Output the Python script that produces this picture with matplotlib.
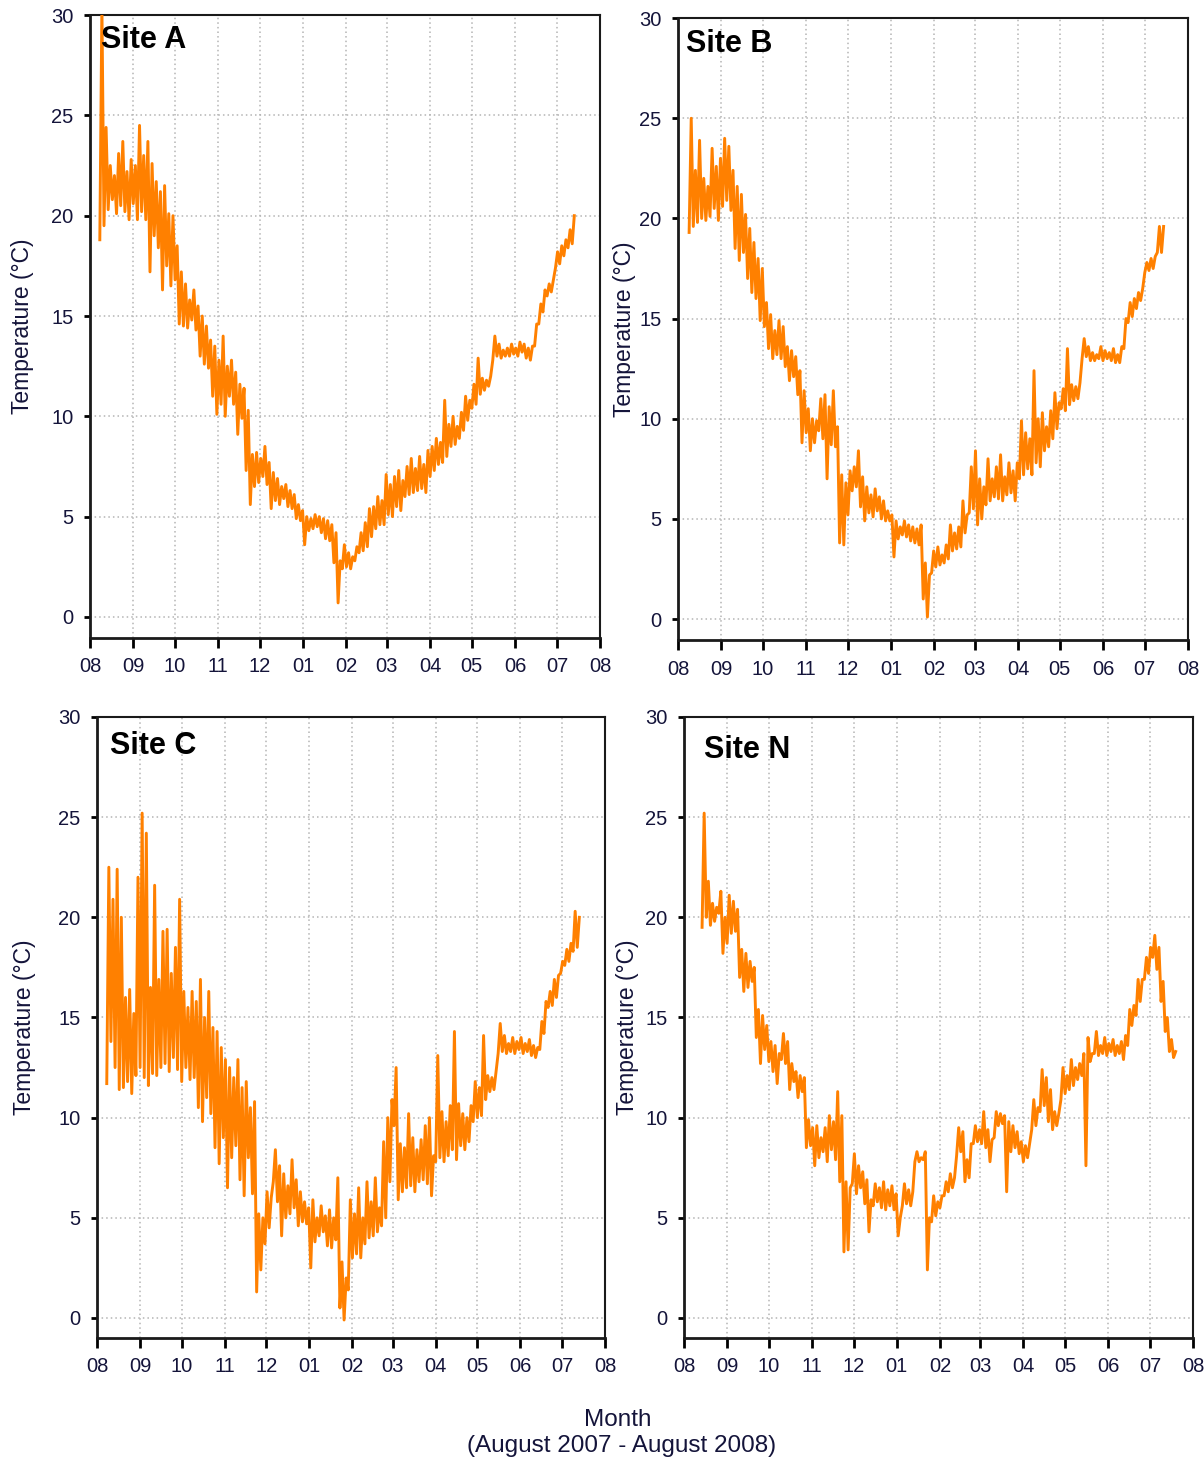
import numpy as np
import pandas as pd
import matplotlib
matplotlib.use("Agg")
import matplotlib.pyplot as plt
import matplotlib.dates as mdates

# ---------------------------------------------------------------
# Water temperature records, Aug 2007 - Aug 2008.
# Each site: low / high readings every 3 days from its first date.
# ---------------------------------------------------------------
site_names = ["Site A", "Site B", "Site C", "Site N"]
site_starts = ["2007-08-08", "2007-08-09", "2007-08-08", "2007-08-14"]
step_days = 3

site_a_lo = [18.8, 19.5, 20.3, 20.8, 20.1, 20.5, 20.2, 19.8, 20.6, 19.8,
             20.2, 19.8, 17.2, 19.0, 18.4, 16.3, 17.5, 16.5, 16.8, 14.6,
             14.5, 14.4, 14.8, 14.3, 13.0, 12.6, 12.4, 11.0, 10.1, 10.6,
             10.0, 11.0, 10.6, 9.1, 9.9, 7.3, 5.6, 6.5, 6.7, 7.0,
             6.6, 5.4, 5.8, 5.6, 5.9, 5.5, 5.4, 4.9, 4.8, 3.6,
             4.3, 4.4, 4.5, 4.2, 3.9, 3.8, 2.7, 0.7, 2.4, 2.5,
             2.4, 2.8, 3.2, 3.3, 3.5, 4.0, 4.4, 4.6, 4.6, 5.1,
             5.0, 5.5, 5.3, 6.0, 6.1, 6.2, 6.3, 6.4, 6.2, 7.0,
             7.3, 7.6, 7.7, 8.0, 8.5, 8.6, 8.9, 9.3, 9.8, 10.4,
             10.6, 11.1, 11.3, 11.5, 12.8, 13.0, 12.9, 13.0, 13.0, 13.1,
             13.0, 13.2, 12.9, 12.8, 13.5, 14.6, 15.2, 16.0, 16.2, 17.4,
             17.6, 18.0, 18.4, 18.6]
site_a_hi = [30.5, 24.4, 22.5, 22.0, 23.1, 23.7, 22.2, 22.8, 22.5, 24.5,
             23.0, 23.7, 22.6, 21.7, 21.2, 21.5, 20.1, 20.0, 18.5, 17.2,
             16.6, 15.8, 16.3, 15.5, 15.0, 14.5, 13.8, 13.5, 12.8, 14.0,
             12.5, 12.8, 12.2, 11.6, 11.4, 10.3, 8.1, 8.2, 7.9, 8.5,
             7.7, 7.2, 6.9, 6.5, 6.6, 6.3, 6.1, 5.6, 5.3, 5.0,
             4.9, 5.1, 5.0, 4.9, 4.8, 4.6, 4.2, 2.8, 3.6, 3.2,
             3.0, 3.5, 4.2, 4.7, 5.4, 5.5, 6.0, 5.8, 7.1, 6.6,
             7.0, 7.3, 6.8, 7.5, 7.9, 7.4, 8.0, 7.6, 8.3, 8.5,
             8.9, 8.7, 10.8, 9.6, 10.0, 9.5, 10.2, 11.0, 10.8, 11.6,
             12.9, 11.9, 11.8, 12.0, 14.0, 13.6, 13.3, 13.4, 13.6, 13.4,
             13.7, 13.6, 13.4, 13.5, 14.6, 15.6, 16.3, 16.6, 16.8, 18.2,
             18.5, 18.8, 19.3, 20.0]

site_b_lo = [19.3, 19.6, 19.8, 20.0, 19.9, 20.1, 20.5, 19.9, 20.6, 20.9,
             20.4, 18.5, 17.9, 18.3, 17.0, 16.3, 16.0, 14.9, 14.6, 13.5,
             13.0, 13.2, 13.0, 12.6, 11.9, 12.1, 11.2, 8.8, 9.3, 8.4,
             8.8, 9.4, 9.0, 7.0, 8.7, 8.6, 3.8, 3.7, 5.2, 6.4,
             6.6, 5.6, 4.9, 5.3, 5.1, 5.4, 5.0, 4.9, 4.9, 3.1,
             4.0, 4.2, 4.1, 3.9, 3.8, 3.7, 1.0, 0.1, 2.3, 2.6,
             2.7, 2.8, 3.0, 3.4, 3.5, 3.6, 4.3, 5.3, 5.5, 4.7,
             5.0, 5.7, 5.9, 6.1, 6.0, 5.9, 6.2, 6.3, 5.9, 7.0,
             7.2, 7.5, 7.2, 7.8, 7.6, 8.4, 8.6, 9.0, 9.5, 10.5,
             10.4, 10.7, 10.9, 11.0, 13.0, 13.1, 12.9, 12.9, 13.0, 12.9,
             13.0, 12.9, 12.8, 12.8, 13.5, 14.8, 15.1, 15.5, 15.9, 17.3,
             17.4, 17.5, 18.3, 18.3]
site_b_hi = [25.0, 22.4, 23.9, 22.0, 21.6, 23.5, 22.6, 23.0, 24.0, 23.6,
             22.4, 21.6, 21.2, 20.2, 19.5, 18.8, 18.0, 17.5, 15.8, 15.2,
             14.4, 14.9, 14.6, 13.6, 13.4, 13.1, 12.4, 11.4, 10.5, 10.0,
             9.9, 11.0, 11.2, 10.6, 11.4, 9.6, 7.2, 6.8, 7.4, 7.6,
             8.4, 7.1, 6.6, 6.2, 6.5, 6.1, 5.9, 5.4, 5.2, 4.9,
             4.6, 4.9, 4.7, 4.6, 4.5, 4.7, 2.8, 2.2, 3.4, 3.6,
             3.2, 3.7, 4.7, 4.3, 4.6, 5.9, 5.2, 7.6, 8.4, 7.0,
             6.6, 8.0, 7.0, 7.6, 8.2, 7.1, 7.8, 7.4, 7.8, 9.9,
             9.3, 9.0, 12.4, 10.0, 10.3, 9.6, 10.4, 11.3, 10.8, 11.5,
             13.5, 11.7, 11.6, 11.8, 14.0, 13.6, 13.3, 13.2, 13.6, 13.4,
             13.3, 13.5, 13.2, 13.6, 15.0, 15.8, 16.0, 16.3, 16.5, 17.8,
             18.0, 18.1, 19.6, 19.6]

site_c_lo = [11.7, 13.8, 12.5, 11.4, 11.5, 11.8, 11.2, 12.1, 12.5, 12.0,
             11.6, 12.2, 12.1, 12.5, 12.7, 12.3, 13.0, 12.4, 11.8, 12.5,
             11.9, 12.0, 10.5, 9.8, 11.0, 10.2, 8.5, 7.7, 9.0, 6.5,
             8.0, 8.6, 6.9, 6.1, 8.0, 6.2, 1.3, 2.4, 3.7, 4.5,
             6.8, 5.8, 4.1, 5.0, 5.2, 5.5, 4.6, 4.8, 4.7, 2.5,
             3.8, 4.1, 4.3, 3.6, 3.5, 3.9, 0.5, -0.1, 1.4, 3.0,
             3.2, 3.0, 3.7, 4.0, 4.1, 4.3, 4.6, 5.0, 6.8, 9.6,
             5.9, 6.3, 6.5, 6.6, 6.3, 6.8, 6.9, 6.7, 6.1, 7.8,
             8.0, 7.8, 8.1, 8.4, 7.9, 8.6, 8.4, 8.8, 9.8, 10.0,
             10.1, 10.9, 11.3, 11.4, 13.2, 13.3, 13.2, 13.3, 13.2, 13.4,
             13.2, 13.3, 13.1, 13.0, 13.4, 14.2, 15.5, 15.6, 16.0, 17.2,
             17.6, 17.8, 18.3, 18.5]
site_c_hi = [22.5, 20.9, 22.4, 20.0, 16.0, 16.4, 15.2, 22.0, 25.2, 24.2,
             16.5, 21.6, 16.9, 19.3, 19.4, 17.2, 18.5, 20.9, 16.3, 15.5,
             16.3, 15.8, 16.9, 15.0, 16.3, 14.5, 14.3, 13.5, 12.9, 12.5,
             12.0, 12.9, 11.5, 11.8, 10.5, 10.8, 5.2, 5.0, 6.3, 6.0,
             8.4, 7.6, 7.2, 6.6, 7.9, 6.9, 6.3, 5.8, 5.5, 5.9,
             5.0, 5.6, 5.1, 5.4, 5.0, 7.0, 2.8, 2.0, 5.9, 5.2,
             6.5, 5.0, 6.8, 5.8, 7.0, 5.5, 8.8, 10.0, 10.9, 12.5,
             8.7, 8.5, 10.2, 9.0, 8.4, 8.9, 9.6, 10.0, 8.1, 13.1,
             10.3, 9.8, 10.6, 14.3, 10.7, 10.2, 10.0, 10.6, 11.8, 11.5,
             14.1, 12.1, 12.0, 12.3, 14.7, 14.1, 13.7, 14.0, 13.8, 14.0,
             13.7, 13.9, 13.6, 13.5, 14.8, 15.8, 16.3, 16.9, 17.1, 17.8,
             18.4, 18.7, 20.3, 20.0]

site_n_lo = [19.5, 20.0, 19.6, 19.8, 20.2, 18.2, 18.7, 19.2, 19.3, 17.0,
             16.3, 16.5, 16.8, 14.0, 12.7, 13.4, 12.8, 12.3, 11.7, 12.9,
             12.7, 11.4, 11.8, 11.0, 11.3, 8.5, 8.6, 7.6, 8.0, 8.3,
             7.8, 8.4, 7.9, 6.8, 3.3, 3.4, 6.7, 6.2, 6.5, 5.7,
             4.3, 5.6, 5.8, 5.5, 5.4, 5.6, 5.4, 4.1, 5.6, 5.7,
             5.6, 7.8, 7.8, 7.9, 2.4, 4.8, 5.1, 5.5, 6.1, 6.3,
             6.5, 8.1, 8.3, 6.8, 7.0, 8.7, 8.8, 8.7, 8.5, 7.8,
             9.0, 9.6, 9.7, 6.3, 8.3, 8.5, 8.2, 7.8, 8.0, 9.4,
             9.6, 10.3, 10.6, 9.8, 9.4, 9.6, 10.9, 11.2, 11.4, 11.6,
             11.9, 12.1, 7.6, 12.8, 13.2, 13.1, 13.2, 13.1, 13.3, 13.1,
             13.2, 12.9, 13.6, 14.6, 15.1, 15.8, 16.9, 17.2, 18.0, 17.4,
             15.8, 14.3, 13.3, 13.0]
site_n_hi = [25.2, 21.8, 20.7, 20.5, 21.3, 20.0, 21.1, 20.8, 20.4, 18.4,
             18.2, 17.8, 17.5, 15.4, 15.1, 14.6, 13.8, 13.6, 13.2, 14.2,
             13.8, 12.7, 12.3, 12.1, 12.0, 9.9, 9.5, 9.6, 9.0, 9.5,
             10.1, 9.8, 11.3, 10.1, 6.8, 6.5, 8.2, 7.6, 7.3, 6.9,
             5.9, 6.7, 6.5, 6.8, 6.4, 6.6, 6.2, 5.0, 6.7, 6.4,
             6.3, 8.3, 8.0, 8.3, 5.0, 6.1, 5.8, 6.1, 6.8, 7.2,
             7.0, 9.5, 9.3, 7.9, 8.7, 9.6, 9.4, 10.3, 9.4, 8.9,
             10.3, 10.2, 10.1, 9.8, 9.6, 9.3, 8.8, 8.6, 8.7, 10.9,
             10.5, 12.4, 12.0, 11.4, 10.3, 10.2, 12.5, 12.1, 12.9, 12.5,
             12.7, 13.2, 14.0, 13.2, 14.3, 13.6, 14.0, 13.7, 13.9, 13.6,
             13.8, 14.1, 15.4, 15.6, 16.9, 16.9, 18.0, 18.5, 19.1, 18.5,
             16.8, 15.0, 13.9, 13.3]

site_lows = [site_a_lo, site_b_lo, site_c_lo, site_n_lo]
site_highs = [site_a_hi, site_b_hi, site_c_hi, site_n_hi]

y_ticks = [0, 5, 10, 15, 20, 25, 30]
x_start, x_end = "2007-08-01", "2008-08-01"

# ---------------------------------------------------------------
plt.rcParams["font.family"] = ["Liberation Sans", "DejaVu Sans"]
line_color = "#ff8000"
text_color = "#14143a"

fig = plt.figure(figsize=(12.04, 14.62), dpi=100)

# panel rectangles (left, bottom, width, height) in figure fraction
rects = [
    (0.0748, 0.5636, 0.4236, 0.4261),
    (0.5631, 0.5622, 0.4236, 0.4254),
    (0.0806, 0.0848, 0.4219, 0.4248),
    (0.5681, 0.0848, 0.4228, 0.4248),
]
title_pos = [(0.022, 0.947), (0.016, 0.945), (0.025, 0.940), (0.039, 0.934)]
ylabel_x = [-0.133, -0.104, -0.142, -0.110]
ylow = [-1.05, -1.05, -1.0, -1.0]

for k in range(4):
    ax = fig.add_axes(rects[k])
    dates = pd.date_range(site_starts[k], periods=len(site_lows[k]),
                          freq=f"{step_days}D")
    t_lo = mdates.date2num(dates.to_pydatetime())
    t_hi = mdates.date2num((dates + pd.Timedelta(hours=36)).to_pydatetime())
    xs = np.empty(2 * len(t_lo))
    ys = np.empty(2 * len(t_lo))
    xs[0::2], xs[1::2] = t_lo, t_hi
    ys[0::2], ys[1::2] = site_lows[k], site_highs[k]
    ax.plot(xs, ys, color=line_color, lw=2.1, zorder=3,
            solid_joinstyle="round")

    ax.set_xlim(mdates.date2num(pd.Timestamp(x_start)),
                mdates.date2num(pd.Timestamp(x_end)))
    ax.set_ylim(ylow[k], 30)
    ax.xaxis.set_major_locator(mdates.MonthLocator())
    ax.xaxis.set_major_formatter(mdates.DateFormatter("%m"))
    ax.set_yticks(y_ticks)

    ax.grid(True, color="#b4b4b4", linestyle=(0, (1, 2.0)), lw=1.1, zorder=0)
    ax.set_axisbelow(True)

    for side in ["left", "bottom"]:
        ax.spines[side].set_linewidth(2.0)
    for side in ["top", "right"]:
        ax.spines[side].set_linewidth(1.5)
    for sp in ax.spines.values():
        sp.set_color("#1a1a1a")

    ax.tick_params(axis="x", direction="out", length=7, width=2,
                   pad=7, labelsize=14.5, labelcolor=text_color)
    ax.tick_params(axis="y", direction="out", length=4, width=2,
                   pad=8, labelsize=14.5, labelcolor=text_color)

    ax.set_ylabel("Temperature (\u00b0C)", fontsize=16.5, color=text_color,
                  va="center")
    ax.yaxis.set_label_coords(ylabel_x[k], 0.5)

    ax.text(title_pos[k][0], title_pos[k][1], site_names[k],
            transform=ax.transAxes, fontsize=22, fontweight="bold",
            color="black", ha="left", va="baseline", zorder=5)

fig.text(0.513, 0.0287, "Month", ha="center", va="center",
         fontsize=17.5, color=text_color)
fig.text(0.516, 0.0110, "(August 2007 - August 2008)", ha="center",
         va="center", fontsize=17.5, color=text_color)

fig.savefig("out.png", dpi=100, facecolor="white")
